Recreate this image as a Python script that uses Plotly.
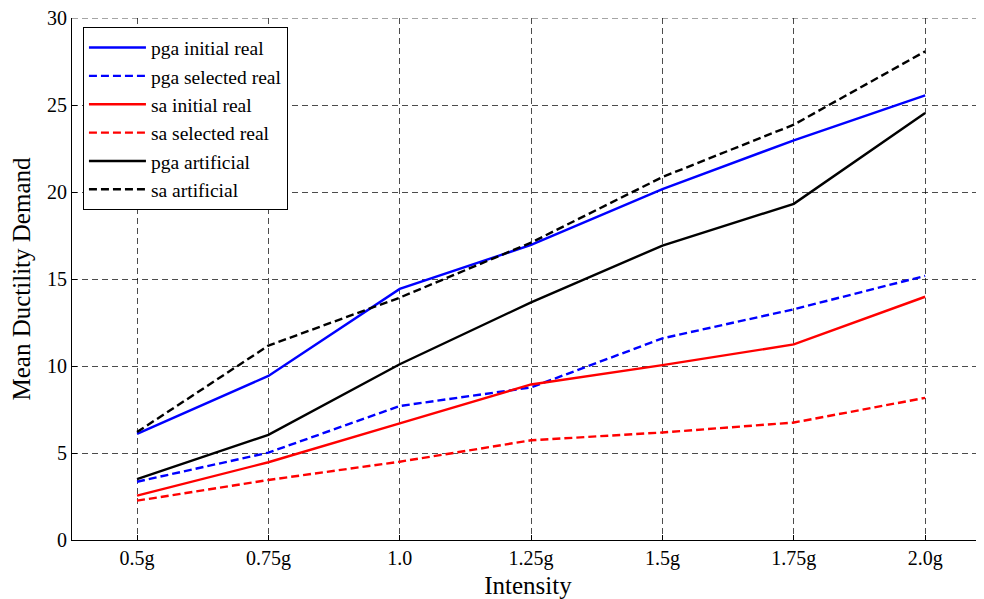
import plotly.graph_objects as go

categories = ["0.5g", "0.75g", "1.0", "1.25g", "1.5g", "1.75g", "2.0g"]
pga_initial_real = [6.1, 9.43, 14.43, 16.96, 20.17, 22.97, 25.55]
pga_selected_real = [3.35, 5.02, 7.7, 8.77, 11.59, 13.26, 15.18]
sa_initial_real = [2.55, 4.47, 6.7, 8.94, 10.05, 11.24, 13.98]
sa_selected_real = [2.26, 3.45, 4.5, 5.73, 6.18, 6.75, 8.17]
pga_artificial = [3.5, 6.04, 10.1, 13.66, 16.92, 19.32, 24.54]
sa_artificial = [6.2, 11.17, 13.93, 17.09, 20.86, 23.87, 28.08]
y_ticks = [0, 5, 10, 15, 20, 25, 30]

series = [
    ("pga initial real", pga_initial_real, "#0000ff", "solid"),
    ("pga selected real", pga_selected_real, "#0000ff", "8px,4px"),
    ("sa initial real", sa_initial_real, "#ff0000", "solid"),
    ("sa selected real", sa_selected_real, "#ff0000", "8px,4px"),
    ("pga artificial", pga_artificial, "#000000", "solid"),
    ("sa artificial", sa_artificial, "#000000", "8px,4px"),
]

xs = list(range(len(categories)))
fig = go.Figure()
for name, vals, color, dash in series:
    fig.add_trace(go.Scatter(x=xs, y=vals, mode="lines", name=name,
                             line=dict(color=color, width=2.4, dash=dash)))

# top grid line (plotly omits the gridline at the plot edge)
fig.add_shape(type="line", xref="paper", yref="y", x0=0, x1=1, y0=y_ticks[-1], y1=y_ticks[-1],
              line=dict(color="rgba(0,0,0,0.7)", width=1, dash="6px,4px"), layer="below")

font = "Liberation Serif, Times New Roman, serif"
fig.update_layout(
    width=976, height=591,
    margin=dict(l=64, r=0, t=10, b=59),
    plot_bgcolor="white", paper_bgcolor="white",
    font=dict(family=font, size=20, color="black"),
    showlegend=True,
    legend=dict(x=0.012, y=0.982, xanchor="left", yanchor="top",
                bgcolor="white", bordercolor="black", borderwidth=1,
                itemwidth=57,
                font=dict(family=font, size=19.5), tracegroupgap=0),
    xaxis=dict(range=[-0.495, 6.448], tickmode="array", tickvals=xs, ticktext=categories,
               showline=True, linecolor="black", linewidth=1, mirror=False,
               ticks="inside", ticklen=5, tickcolor="black",
               showgrid=True, gridcolor="rgba(0,0,0,0.7)", griddash="6px,4px", gridwidth=1,
               zeroline=False, ticklabeloverflow="allow",
               title=dict(text="Intensity", font=dict(family=font, size=25), standoff=7),
               tickfont=dict(family=font, size=20)),
    yaxis=dict(range=[0, 30.0001], tickmode="array", tickvals=y_ticks,
               showline=True, linecolor="black", linewidth=1,
               ticks="inside", ticklen=5, tickcolor="black",
               showgrid=True, gridcolor="rgba(0,0,0,0.7)", griddash="6px,4px", gridwidth=1,
               zeroline=False, ticklabeloverflow="allow",
               title=dict(text="Mean Ductility Demand", font=dict(family=font, size=25), standoff=12),
               tickfont=dict(family=font, size=20)),
)
fig.write_html("out.html")
